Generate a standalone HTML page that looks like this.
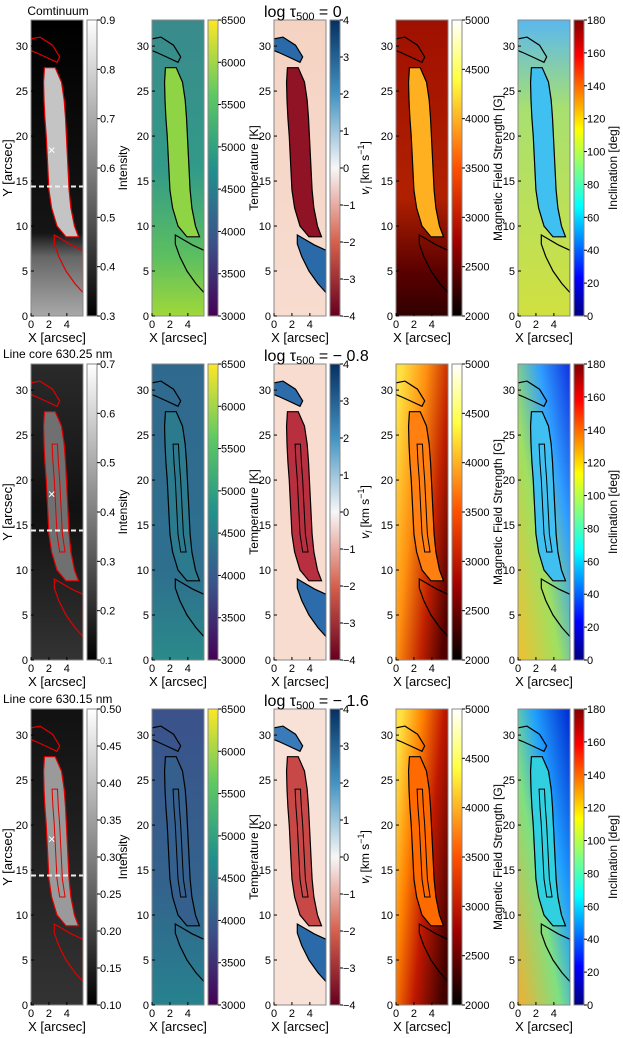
<!DOCTYPE html>
<html><head><meta charset="utf-8">
<style>
html,body{margin:0;padding:0;background:#fff;}
svg{display:block;font-family:"Liberation Sans",Arial,sans-serif;}
</style></head>
<body>
<svg id="fig" xmlns="http://www.w3.org/2000/svg" width="623" height="1038" viewBox="0 0 623 1038"></svg>
<script>
// ---- data ----
const rowTops = [20, 364, 709];
const colX = [31, 152, 274, 396, 518];
const yTicks = [0, 5, 10, 15, 20, 25, 30];
const xTicks = [0, 2, 4];
const rowTitles = ["Comtinuum", "Line core 630.25 nm", "Line core 630.15 nm"];
const tauLabels = ["0", "\u2212 0.8", "\u2212 1.6"];
const cbIntensityTicks = [
  ["0.3","0.4","0.5","0.6","0.7","0.8","0.9"],
  ["0.1","0.2","0.3","0.4","0.5","0.6","0.7"],
  ["0.10","0.15","0.20","0.25","0.30","0.35","0.40","0.45","0.50"]];
const cbTempTicks = [3000,3500,4000,4500,5000,5500,6000,6500];
const cbVelTicks = [-4,-3,-2,-1,0,1,2,3,4];
const cbBTicks = [2000,2500,3000,3500,4000,4500,5000];
const cbIncTicks = [0,20,40,60,80,100,120,140,160,180];
const colLabels = ["Intensity","Temperature [K]","v_l","Magnetic Field Strength [G]","Inclination [deg]"];
// filament outline (arcsec)
const filY     = [27.6, 26, 24, 22, 20, 18, 16, 14, 12, 10, 8.8];
const filLeft  = [1.5, 1.4, 1.45, 1.55, 1.7, 1.8, 1.9, 2.0, 2.3, 2.9, 3.9];
const filRight = [2.7, 3.4, 3.7, 3.85, 3.95, 4.05, 4.15, 4.25, 4.45, 4.85, 5.3];
const topBlobX = [0, 1, 2.4, 3.2, 2.9, 1.6, 0.5, 0];
const topBlobY = [30.8, 31.0, 30.1, 28.8, 28.2, 28.8, 29.3, 29.5];
const botBlobX = [2.6, 3.3, 4.5, 5.8, 5.8, 4.9, 3.9, 3.1, 2.6];
const botBlobY = [9.0, 8.6, 7.9, 7.3, 2.6, 3.6, 5.0, 6.6, 8.0];

// ---- styles ----
const W = 52, H = 296, XMAX = 5.8, YMAX = 32.9;
const styles = [
 [ {g:[0,0,0,1],s:[[0,'#000'],[0.72,'#151515'],[0.8,'#666'],[1,'#a8a8a8']],f:'#c4c4c4',l:'#e00000'},
   {g:[0,0,0,1],s:[[0,'#3a8a8c'],[0.5,'#329a88'],[0.8,'#5cbf60'],[1,'#9fd83a']],f:'#8fd444',l:'#000'},
   {g:[0,0,0,1],s:[[0,'#f5d3c3'],[1,'#f7dccf']],f:'#8f1225',l:'#000',b:['#2a6aa8','#2a6aa8']},
   {g:[0,0,0,1],s:[[0,'#a01000'],[0.6,'#b02000'],[0.85,'#5a0000'],[1,'#300000']],f:'#ffb020',l:'#000'},
   {g:[0,0,0,1],s:[[0,'#5ab8f0'],[0.3,'#a8e070'],[1,'#d0e040']],f:'#40c0f0',l:'#000'} ],
 [ {g:[0,0,0,1],s:[[0,'#2a2a2a'],[0.5,'#111'],[1,'#333']],f:'#707070',l:'#e00000'},
   {g:[0,0,0,1],s:[[0,'#30698e'],[0.7,'#2e6f8e'],[1,'#2a8a8a']],f:'#2c7a8e',l:'#000'},
   {g:[0,0,0,1],s:[[0,'#f7dccf'],[1,'#f7dccf']],f:'#b83040',l:'#000',b:['#2c6cab','#2c6cab']},
   {g:[0,0.2,1,0.8],s:[[0,'#ffe040'],[0.35,'#ff9010'],[0.7,'#c02000'],[1,'#500000']],f:'#ff8010',l:'#000'},
   {g:[1,0,0,1],s:[[0,'#1030e0'],[0.3,'#30a0ff'],[0.6,'#a0e060'],[1,'#f0c030']],f:'#40c0f0',l:'#000'} ],
 [ {g:[0,0,0,1],s:[[0,'#111'],[1,'#333']],f:'#9a9a9a',l:'#e00000'},
   {g:[0,0,0,1],s:[[0,'#3b528b'],[0.6,'#33638d'],[1,'#26828e']],f:'#355f8d',l:'#000'},
   {g:[0,0,0,1],s:[[0,'#f8e2d8'],[1,'#f8e2d8']],f:'#c84848',l:'#000',b:['#3a7ab8','#2a6aa8']},
   {g:[0,0.2,1,0.8],s:[[0,'#ffe040'],[0.3,'#ff8000'],[0.6,'#c01800'],[1,'#400000']],f:'#ff6a00',l:'#000'},
   {g:[1,0,0,1],s:[[0,'#0028d0'],[0.35,'#20a0ff'],[0.6,'#80e080'],[1,'#f0b030']],f:'#30d0e0',l:'#000'} ]
];
const cmaps = [
 [[0,'#ffffff'],[1,'#000000']],
 [[0,'#fde725'],[0.25,'#5ec962'],[0.5,'#21918c'],[0.75,'#3b528b'],[1,'#440154']],
 [[0,'#053061'],[0.25,'#4393c3'],[0.5,'#f7f7f7'],[0.75,'#d6604d'],[1,'#67001f']],
 [[0,'#ffffff'],[0.2,'#ffff40'],[0.5,'#ff5000'],[0.75,'#a00000'],[1,'#000000']],
 [[0,'#800000'],[0.12,'#ff0000'],[0.37,'#ffff00'],[0.5,'#80ff80'],[0.63,'#00ffff'],[0.87,'#0000ff'],[1,'#000080']]
];

const NS = 'http://www.w3.org/2000/svg';
const svg = document.getElementById('fig');
const defs = document.createElementNS(NS,'defs');
svg.appendChild(defs);
function mk(tag, attrs, parent){
  const e = document.createElementNS(NS, tag);
  for (const k in attrs) e.setAttribute(k, attrs[k]);
  (parent||svg).appendChild(e);
  return e;
}
function grad(id, g, stops){
  const lg = mk('linearGradient',{id:id,x1:g[0],y1:g[1],x2:g[2],y2:g[3]},defs);
  stops.forEach(s=>mk('stop',{offset:s[0],'stop-color':s[1]},lg));
}
function txt(x,y,s,size,anchor,parent){
  const t = mk('text',{x:x,y:y,'font-size':size,'text-anchor':anchor||'start',fill:'#000'},parent);
  t.textContent = s;
  return t;
}
cmaps.forEach((c,i)=>grad('cm'+i,[0,0,0,1],c));

for (let r=0;r<3;r++){
  const top = rowTops[r];
  for (let c=0;c<5;c++){
    const x0 = colX[c];
    const sx = v => x0 + v*W/XMAX;
    const sy = v => top + (YMAX - v)*H/YMAX;
    const st = styles[r][c];
    const g = mk('g',{});
    
    
    const gid = 'bg'+r+c;
    grad(gid, st.g, st.s);
    const cp = mk('clipPath',{id:'cp'+r+c},defs);
    mk('rect',{x:x0,y:top,width:W,height:H},cp);
    const inner = mk('g',{'clip-path':'url(#cp'+r+c+')'},g);
    mk('rect',{x:x0,y:top,width:W,height:H,fill:'url(#'+gid+')'},inner);
    let pts = [];
    for (let i=0;i<filY.length;i++) pts.push(sx(filLeft[i])+','+sy(filY[i]));
    for (let i=filY.length-1;i>=0;i--) pts.push(sx(filRight[i])+','+sy(filY[i]));
    const fil = mk('polygon',{points:pts.join(' '),fill:st.f,stroke:st.l,'stroke-width':1.2},inner);
    
    
    if (r>0){
      let p2=[];
      for (let i=2;i<filY.length-2;i++) p2.push(sx(filLeft[i]+0.9)+','+sy(filY[i]));
      for (let i=filY.length-3;i>=2;i--) p2.push(sx(filLeft[i]+1.5)+','+sy(filY[i]));
      mk('polygon',{points:p2.join(' '),fill:'none',stroke:st.l,'stroke-width':1},inner);
    }
    const tb = topBlobX.map((v,i)=>sx(v)+','+sy(topBlobY[i])).join(' ');
    const bb = botBlobX.map((v,i)=>sx(v)+','+sy(botBlobY[i])).join(' ');
    mk('polygon',{points:tb,fill:st.b?st.b[0]:'none',stroke:st.l,'stroke-width':1.2},inner);
    mk('polygon',{points:bb,fill:st.b?st.b[1]:'none',stroke:st.l,'stroke-width':1.2},inner);
    mk('rect',{x:x0,y:top,width:W,height:H,fill:'none',stroke:'#888','stroke-width':1},g);
    if (c===0){
      mk('line',{x1:x0,x2:x0+W,y1:sy(14.4),y2:sy(14.4),stroke:'#eee','stroke-width':2,'stroke-dasharray':'5,3'},g);
      txt(sx(2.3),sy(18.4)+4,'\u00d7',13,'middle',g).setAttribute('fill','#fff');
    }
    yTicks.forEach(v=>{
      mk('line',{x1:x0,x2:x0+3,y1:sy(v),y2:sy(v),stroke:'#000'},g);
      txt(x0-3,sy(v)+4,String(v),11,'end',g);
    });
    xTicks.forEach(v=>{
      mk('line',{x1:sx(v),x2:sx(v),y1:top+H,y2:top+H-3,stroke:'#000'},g);
      txt(sx(v),top+H+12,String(v),11,'middle',g);
    });
    const xl = txt(x0+W/2,top+H+26,'X [arcsec]',13,'middle',g);
    
    
    const cbx = x0+56;
    const cb = mk('g',{});
    
    
    mk('rect',{x:cbx,y:top,width:10,height:H,fill:'url(#cm'+c+')',stroke:'#888','stroke-width':1},cb);
    let ticks, lo, hi, labs;
    if (c===0){ labs=cbIntensityTicks[r]; lo=0; hi=labs.length-1; ticks=labs.map((_,i)=>i); }
    else if (c===1){ ticks=cbTempTicks; labs=ticks.map(String); lo=3000; hi=6500; }
    else if (c===2){ ticks=cbVelTicks; labs=ticks.map(v=>v<0?'\u2212'+(-v):String(v)); lo=-4; hi=4; }
    else if (c===3){ ticks=cbBTicks; labs=ticks.map(String); lo=2000; hi=5000; }
    else { ticks=cbIncTicks; labs=ticks.map(String); lo=0; hi=180; }
    ticks.forEach((v,i)=>{
      const y = top + H - (v-lo)/(hi-lo)*H;
      mk('line',{x1:cbx+10,x2:cbx+13,y1:y,y2:y,stroke:'#000'},cb);
      txt(cbx+13,y+4,labs[i],(c===0&&r===1&&i===0)?9:11,'start',cb);
    });
    const lx = [127,258,369,502,617][c];
    const ly = top+H/2;
    const lab = mk('text',{x:lx,y:ly,'font-size':12,'text-anchor':'middle',transform:'rotate(-90 '+lx+' '+ly+')'},cb);
    if (c===2){
      const t1 = mk('tspan',{'font-style':'italic'},lab); t1.textContent='v';
      const t2 = mk('tspan',{'font-style':'italic','font-size':9,dy:3},lab); t2.textContent='l';
      const t3 = mk('tspan',{dy:-3},lab); t3.textContent=' [km s';
      const t4 = mk('tspan',{'font-size':9,dy:-5},lab); t4.textContent='\u22121';
      const t5 = mk('tspan',{dy:5},lab); t5.textContent=']';
    } else lab.textContent = colLabels[c];
  }
  const yl = mk('text',{x:12,y:rowTops[r]+H/2,'font-size':13,'text-anchor':'middle',transform:'rotate(-90 12 '+(rowTops[r]+H/2)+')'});
  yl.textContent='Y [arcsec]';
  
  
  const rt = r===0 ? txt(58,rowTops[r]-5,rowTitles[r],12,'middle') : txt(3,rowTops[r]-6,rowTitles[r],12,'start');
  
  
  const tt = mk('text',{x:264,y:rowTops[r]-3,'font-size':16});
  
  
  const a = mk('tspan',{},tt); a.textContent='log \u03c4';
  const b = mk('tspan',{'font-size':11,dy:3},tt); b.textContent='500';
  const d = mk('tspan',{dy:-3},tt); d.textContent=' = '+tauLabels[r];
}
</script>
</body></html>
